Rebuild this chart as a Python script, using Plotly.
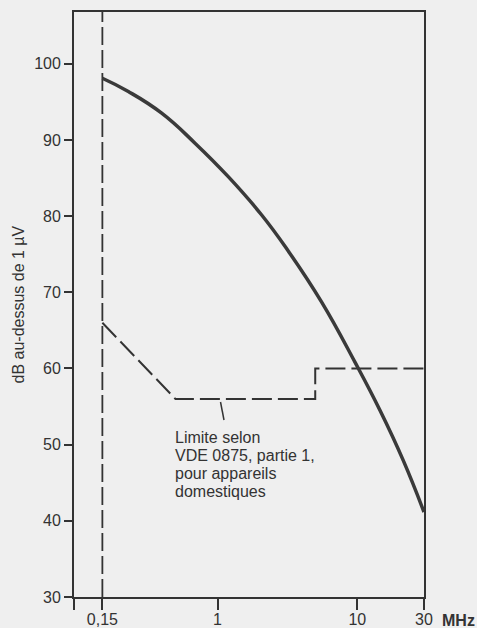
import math
import plotly.graph_objects as go

# ---- data ----
curve_freq_mhz = [0.15, 0.23, 0.3985, 0.69, 1.193, 2.069, 3.206, 5.558, 9.62, 14.52, 21.31, 30]
curve_db = [98.1, 96.36, 93.52, 89.58, 85.18, 80.15, 75.42, 68.71, 60.83, 54.52, 47.94, 41.15]

limit_freq_mhz = [0.15, 0.5, 5, 5, 30]
limit_db = [66, 56, 56, 60, 60]

start_freq_mhz = 0.15

x_tick_vals = [0.094, 0.15, 1, 10, 30]
x_tick_text = ["", "0,15", "1", "10", "30"]
y_tick_vals = [30, 40, 50, 60, 70, 80, 90, 100]

y_min, y_max = 30, 106.8
x_min, x_max = 0.094, 30

note_lines = ["Limite selon", "VDE 0875, partie 1,", "pour appareils", "domestiques"]
y_title = "dB au-dessus de 1 µV"
x_unit = "MHz"

# ---- style ----
INK = "#333333"
BG = "#efefef"
FONT = "Liberation Sans, Arial, Helvetica, sans-serif"

fig = go.Figure()

fig.add_trace(go.Scatter(
    x=[start_freq_mhz, start_freq_mhz], y=[y_min, y_max], mode="lines",
    line=dict(color=INK, width=1.8, dash="18px,5px"), hoverinfo="skip", showlegend=False,
))
fig.add_trace(go.Scatter(
    x=limit_freq_mhz, y=limit_db, mode="lines",
    line=dict(color=INK, width=2, dash="20px,6px"), showlegend=False,
))
fig.add_trace(go.Scatter(
    x=curve_freq_mhz, y=curve_db, mode="lines", line_shape="spline",
    line=dict(color="#3a3a3a", width=3.5, smoothing=1.3), showlegend=False,
))

W, H = 477, 628
L, R, T, B = 74, 53, 12, 31
ph = H - T - B


def py(ypix):
    return (H - B - ypix) / ph


def px(xpix):
    return (xpix - L) / (W - L - R)


annotations = []
centers = [437.7, 455.7, 473.7, 491.7]
for line, c in zip(note_lines, centers):
    annotations.append(dict(
        text=line, xref="paper", yref="paper", x=px(173), y=py(c),
        xanchor="left", yanchor="middle", showarrow=False,
        font=dict(family=FONT, size=16, color=INK),
    ))
annotations.append(dict(
    text=y_title, xref="paper", yref="paper", x=0, y=0.5, xshift=-56,
    xanchor="center", yanchor="middle", textangle=-90, showarrow=False,
    font=dict(family=FONT, size=16, color=INK),
))
annotations.append(dict(
    text="<b>" + x_unit + "</b>", xref="paper", yref="paper", x=1, y=0,
    xshift=16, yshift=-23.5, xanchor="left", yanchor="middle", showarrow=False,
    font=dict(family=FONT, size=16, color=INK),
))

fig.update_layout(
    width=W, height=H,
    margin=dict(l=L, r=R, t=T, b=B, pad=0),
    paper_bgcolor=BG, plot_bgcolor=BG,
    font=dict(family=FONT, size=16, color=INK),
    showlegend=False,
    annotations=annotations,
    shapes=[dict(
        type="line", xref="paper", yref="paper",
        x0=px(220.5), y0=py(402), x1=px(224), y1=py(420),
        line=dict(color=INK, width=1.5),
    )],
    xaxis=dict(
        type="log", range=[math.log10(x_min), math.log10(x_max)],
        tickmode="array", tickvals=x_tick_vals, ticktext=x_tick_text,
        ticks="outside", ticklen=11, tickwidth=1.8, tickcolor=INK,
        ticklabelstandoff=-4,
        showline=True, linecolor=INK, linewidth=1.8, mirror=True,
        showgrid=False, zeroline=False, automargin=False,
        tickfont=dict(family=FONT, size=16, color=INK),
    ),
    yaxis=dict(
        range=[y_min, y_max],
        tickmode="array", tickvals=y_tick_vals,
        ticks="outside", ticklen=8, tickwidth=1.8, tickcolor=INK,
        showline=True, linecolor=INK, linewidth=1.8, mirror=True,
        showgrid=False, zeroline=False, automargin=False,
        tickfont=dict(family=FONT, size=16, color=INK),
    ),
)

fig.write_html(
    "out.html",
    config={"displayModeBar": False},
    post_script="document.body.style.margin='0';document.body.style.background='%s';" % BG,
)
